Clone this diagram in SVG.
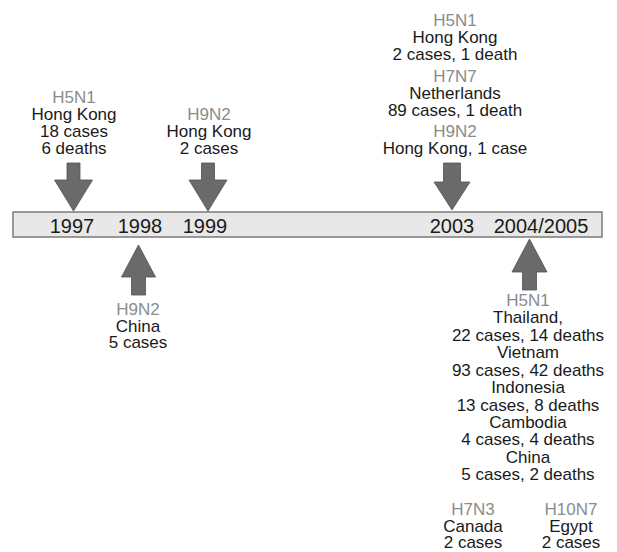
<svg xmlns="http://www.w3.org/2000/svg" width="617" height="552" viewBox="0 0 617 552">
<style>
text{font-family:"Liberation Sans",Arial,sans-serif;font-size:17px;fill:#1a1a1a;text-anchor:middle}
.sub{fill:#8c8c8c}
.yr{font-size:20px}
.bar{fill:#e8e8e8;stroke:#7a7a7a;stroke-width:1.5}
.arr{fill:#6a6a6a;stroke:#505050;stroke-width:0.8}
</style>
<rect width="617" height="552" fill="#ffffff"/>
<g id="timeline">
<rect class="bar" x="13" y="212" width="589" height="25"/>
<text class="yr" x="72" y="233">1997</text>
<text class="yr" x="140" y="233">1998</text>
<text class="yr" x="205" y="233">1999</text>
<text class="yr" x="452" y="233">2003</text>
<text class="yr" x="541" y="233">2004/2005</text>
</g>
<g id="connectors">
<path class="arr" d="M67,163 H80 V180 H92.5 L73.5,211 L54.5,180 H67 Z"/>
<path class="arr" d="M201.5,163 H214.5 V180 H227 L208,211 L189,180 H201.5 Z"/>
<path class="arr" d="M443.5,163 H460.5 V182 H470 L452,210 L434,182 H443.5 Z"/>
<path class="arr" d="M131.5,295 H145.5 V277 H155.5 L138.5,245 L121.5,277 H131.5 Z"/>
<path class="arr" d="M522.5,290 H536.5 V272 H547 L529.5,239 L512,272 H522.5 Z"/>
</g>
<g id="n1997">
<text class="sub" x="74" y="103">H5N1</text>
<text x="74" y="120">Hong Kong</text>
<text x="74" y="137">18 cases</text>
<text x="74" y="154">6 deaths</text>
</g>
<g id="n1999">
<text class="sub" x="209" y="120">H9N2</text>
<text x="209" y="137">Hong Kong</text>
<text x="209" y="154">2 cases</text>
</g>
<g id="n2003">
<text class="sub" x="455" y="26">H5N1</text>
<text x="455" y="43">Hong Kong</text>
<text x="455" y="60">2 cases, 1 death</text>
<text class="sub" x="455" y="82">H7N7</text>
<text x="455" y="99">Netherlands</text>
<text x="455" y="116">89 cases, 1 death</text>
<text class="sub" x="455" y="137">H9N2</text>
<text x="455" y="154">Hong Kong, 1 case</text>
</g>
<g id="n1998">
<text class="sub" x="138" y="315">H9N2</text>
<text x="138" y="332">China</text>
<text x="138" y="348">5 cases</text>
</g>
<g id="n2004">
<text class="sub" x="528" y="306">H5N1</text>
<text x="528" y="323">Thailand,</text>
<text x="528" y="341">22 cases, 14 deaths</text>
<text x="528" y="358">Vietnam</text>
<text x="528" y="376">93 cases, 42 deaths</text>
<text x="528" y="393">Indonesia</text>
<text x="528" y="411">13 cases, 8 deaths</text>
<text x="528" y="428">Cambodia</text>
<text x="528" y="445">4 cases, 4 deaths</text>
<text x="528" y="463">China</text>
<text x="528" y="480">5 cases, 2 deaths</text>
</g>
<g id="nH7N3">
<text class="sub" x="473" y="515">H7N3</text>
<text x="473" y="532">Canada</text>
<text x="473" y="548">2 cases</text>
</g>
<g id="nH10N7">
<text class="sub" x="571" y="515">H10N7</text>
<text x="571" y="532">Egypt</text>
<text x="571" y="548">2 cases</text>
</g>
</svg>
